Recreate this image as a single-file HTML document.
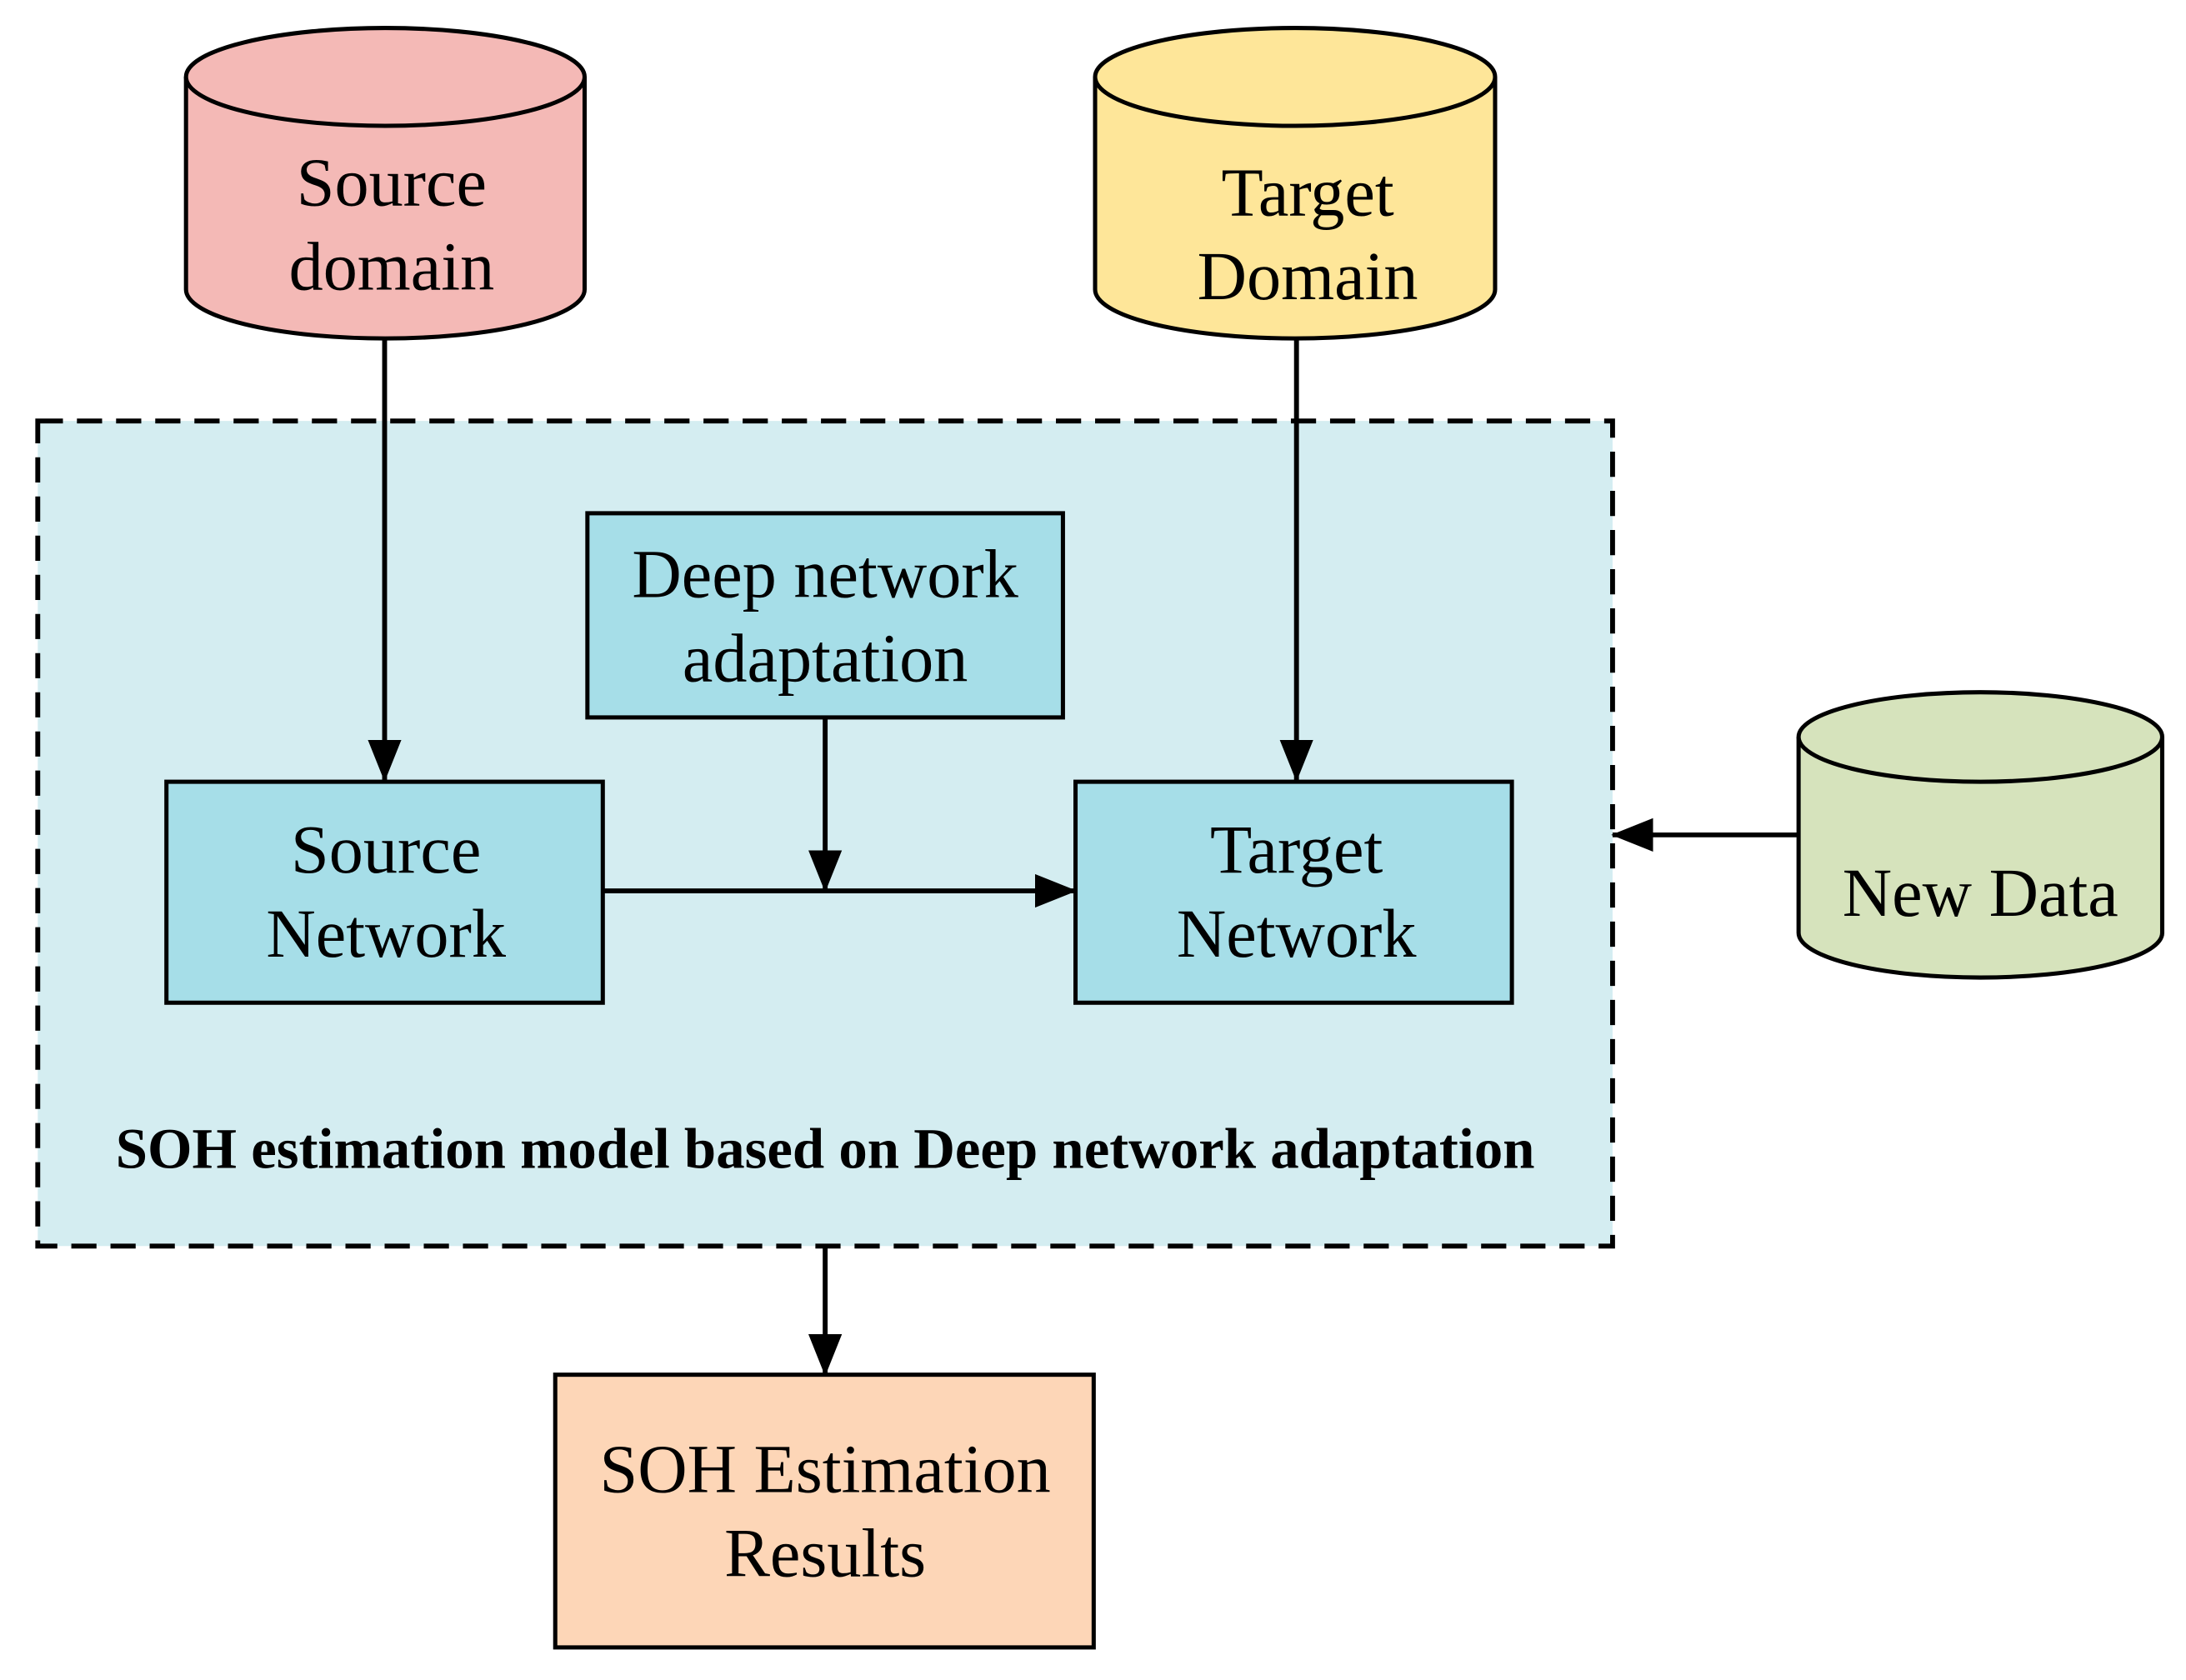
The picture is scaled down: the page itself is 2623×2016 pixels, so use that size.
<!DOCTYPE html>
<html><head><style>html,body{margin:0;padding:0;background:#fff}svg{display:block}</style></head><body>
<svg width="2623" height="2016" viewBox="0 0 1563 1201.3" preserveAspectRatio="none" xmlns="http://www.w3.org/2000/svg" font-family="Liberation Serif, serif">
<defs>
<marker id="b" markerWidth="30" markerHeight="24" refX="29" refY="12" orient="auto" markerUnits="userSpaceOnUse"><path d="M0,0 L30,12 L0,24 z" fill="#000"/></marker></defs>
<rect x="27" y="301" width="1126" height="590" fill="#d4edf1" stroke="#000" stroke-width="3.5" stroke-dasharray="18,10"/>
<path d="M133,55 L133,207 A142.5,35 0 0 0 418,207 L418,55" fill="#f4b9b6" stroke="#000" stroke-width="3"/>
<ellipse cx="275.5" cy="55" rx="142.5" ry="35" fill="#f4b9b6" stroke="#000" stroke-width="3"/>
<text x="280" y="147" font-size="49" text-anchor="middle">Source</text>
<text x="280" y="207" font-size="49" text-anchor="middle">domain</text>
<path d="M783,55 L783,207 A143,35 0 0 0 1069,207 L1069,55" fill="#fee699" stroke="#000" stroke-width="3"/>
<ellipse cx="926" cy="55" rx="143" ry="35" fill="#fee699" stroke="#000" stroke-width="3"/>
<text x="935" y="154" font-size="49" text-anchor="middle">Target</text>
<text x="935" y="214" font-size="49" text-anchor="middle">Domain</text>
<path d="M1286,527 L1286,667 A130,32 0 0 0 1546,667 L1546,527" fill="#d6e3bc" stroke="#000" stroke-width="3"/>
<ellipse cx="1416" cy="527" rx="130" ry="32" fill="#d6e3bc" stroke="#000" stroke-width="3"/>
<text x="1416" y="655" font-size="49" text-anchor="middle">New Data</text>
<rect x="420" y="367" width="340" height="146" fill="#a6dee8" stroke="#000" stroke-width="3"/>
<text x="590" y="427" font-size="49" text-anchor="middle">Deep network</text>
<text x="590" y="487" font-size="49" text-anchor="middle">adaptation</text>
<rect x="119" y="559" width="312" height="158" fill="#a6dee8" stroke="#000" stroke-width="3"/>
<text x="276" y="624" font-size="49" text-anchor="middle">Source</text>
<text x="276" y="684" font-size="49" text-anchor="middle">Network</text>
<rect x="769" y="559" width="312" height="158" fill="#a6dee8" stroke="#000" stroke-width="3"/>
<text x="927" y="624" font-size="49" text-anchor="middle">Target</text>
<text x="927" y="684" font-size="49" text-anchor="middle">Network</text>
<rect x="397" y="983" width="385" height="195" fill="#fdd6b7" stroke="#000" stroke-width="3"/>
<text x="590" y="1067" font-size="49" text-anchor="middle">SOH Estimation</text>
<text x="590" y="1127" font-size="49" text-anchor="middle">Results</text>
<text x="590" y="835" font-size="41" font-weight="bold" text-anchor="middle">SOH estimation model based on Deep network adaptation</text>
<g stroke="#000" stroke-width="3.5" fill="none">
<line x1="275" y1="242" x2="275" y2="558" marker-end="url(#b)"/>
<line x1="927" y1="242" x2="927" y2="558" marker-end="url(#b)"/>
<line x1="590" y1="513" x2="590" y2="637" marker-end="url(#b)"/>
<line x1="431" y1="637" x2="769" y2="637" marker-end="url(#b)"/>
<line x1="1286" y1="597" x2="1153" y2="597" marker-end="url(#b)"/>
<line x1="590" y1="891" x2="590" y2="983" marker-end="url(#b)"/>
</g>
</svg>
</body></html>
